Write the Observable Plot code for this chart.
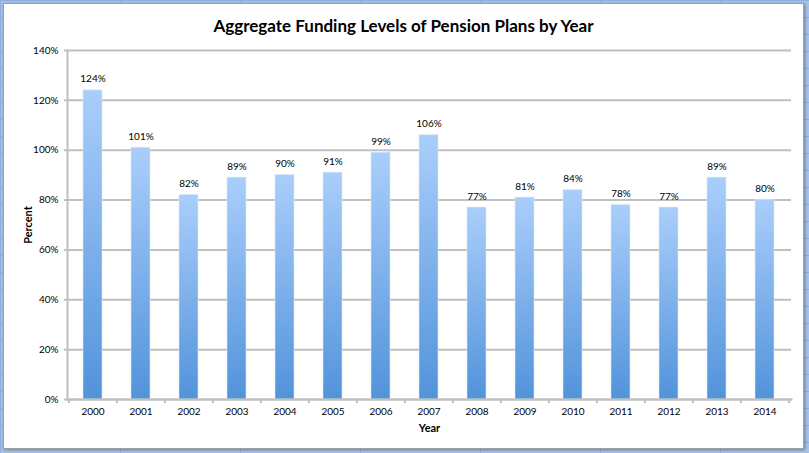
<!DOCTYPE html>
<html><head><meta charset="utf-8">
<script src="https://cdn.jsdelivr.net/npm/d3@7"></script>
<script src="https://cdn.jsdelivr.net/npm/@observablehq/plot@0.6"></script>
<style>
html,body{margin:0;padding:0;}
body{width:809px;height:453px;overflow:hidden;position:relative;font-family:Lato,"Open Sans",sans-serif;
 background-color:#a6c3ea;
 background-image:linear-gradient(#8fb0de 1px, transparent 1px),linear-gradient(90deg,#8fb0de 1px, transparent 1px);
 background-size:120px 17px;}
#frame{position:absolute;left:4px;top:4px;width:799px;height:444px;background:#fff;
 box-shadow:0 0 0 1px #a0a0a0, 1px 1px 3px 1px rgba(0,0,0,0.35);}
#title{box-sizing:border-box;height:36px;padding-top:12px;text-align:center;font-weight:bold;font-size:17px;line-height:20px;color:#000;}
#chart svg{display:block;}
</style></head>
<body>
<div id="frame"><div id="title">Aggregate Funding Levels of Pension Plans by Year</div><div id="chart"></div></div>
<script>
const years = ["2000","2001","2002","2003","2004","2005","2006","2007","2008","2009","2010","2011","2012","2013","2014"];
const values = [124,101,82,89,90,91,99,106,77,81,84,78,77,89,80];
const yTicks = [0,20,40,60,80,100,120,140];

const data = years.map((year,i)=>({year, value: values[i]}));
const W = 799, H = 408, mL = 63, mR = 12, mT = 10, mB = 49;
const step = (W - mL - mR) / years.length;
const grid = "#c0c0c0";

const chart = Plot.plot({
  width: W, height: H,
  marginLeft: mL, marginRight: mR, marginTop: mT, marginBottom: mB,
  style: {fontFamily: "Lato, 'Open Sans', sans-serif", fontSize: "10px", color: "#000", background: "transparent"},
  x: {domain: years, paddingInner: 0.6, paddingOuter: 0.3, label: null},
  y: {domain: [0,140], label: null},
  marks: [
    () => {
      const ns = "http://www.w3.org/2000/svg";
      const g = document.createElementNS(ns, "g");
      g.innerHTML = `<defs><linearGradient id="barGrad" x1="0" y1="0" x2="0" y2="1">
        <stop offset="0" stop-color="#aacefb"/><stop offset="1" stop-color="#5293db"/></linearGradient></defs>`;
      return g;
    },
    Plot.gridY(yTicks, {stroke: grid, strokeOpacity: 1, strokeWidth: 2}),
    Plot.barY(data, {x: "year", y: "value", fill: "url(#barGrad)", stroke: "#d6e6f8", strokeWidth: 0.6}),
    Plot.text(data, {x: "year", y: "value", text: d => d.value + "%", dy: -8, lineAnchor: "bottom", fontSize: 10, fill: "#000"}),
    Plot.frame({anchor: "left", stroke: grid, strokeWidth: 2}),
    Plot.frame({anchor: "bottom", stroke: grid, strokeWidth: 2}),
    Plot.axisY(yTicks, {tickSize: 3, stroke: grid, strokeWidth: 2, fill: "#000", tickPadding: 6, fontSize: 10,
      tickFormat: d => d + "%", label: "Percent", labelAnchor: "center", labelArrow: false, labelOffset: 43}),
    Plot.axisX({tickSize: 0, tickPadding: 8, fontSize: 10, fill: "#000", label: "Year", labelAnchor: "center", labelArrow: false, labelOffset: 32}),
    Plot.axisX(years, {tickSize: 4, stroke: grid, strokeWidth: 2, dx: -step/2, tickFormat: () => "", label: null}),
    Plot.axisX([years[years.length-1]], {tickSize: 4, stroke: grid, strokeWidth: 2, dx: step/2, tickFormat: () => "", label: null})
  ]
});
chart.querySelectorAll("[aria-label='y-axis label'], [aria-label='x-axis label']").forEach(n => {
  n.setAttribute("font-weight", "bold"); n.setAttribute("font-size", "11");
});
document.getElementById("chart").append(chart);
</script>
</body></html>
